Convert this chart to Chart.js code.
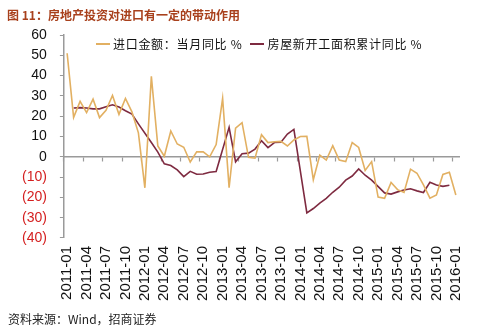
<!DOCTYPE html>
<html>
<head>
<meta charset="utf-8">
<script src="https://cdn.jsdelivr.net/npm/chart.js@4.4.1/dist/chart.umd.min.js"></script>
<style>
  html, body { margin: 0; padding: 0; background: #fff; }
  #wrap { position: relative; width: 482px; height: 333px; overflow: hidden; }
  #title { position: absolute; left: 7px; top: 6px; font: bold 12px "Noto Sans CJK SC", sans-serif; color: #A8401C; white-space: nowrap; }
  #source { position: absolute; left: 8px; top: 310px; font: 12px "Noto Sans CJK SC", sans-serif; color: #222; white-space: nowrap; }
  #legend { position: absolute; left: 96px; top: 35px; display: flex; font: 12px "Noto Sans CJK SC", sans-serif; letter-spacing: 0.7px; color: #111; white-space: nowrap; }
  #legend .item { display: flex; align-items: center; margin-right: 8px; }
  #legend .swatch { width: 14px; height: 2px; margin-right: 3px; }
  canvas { position: absolute; left: 0; top: 0; }
</style>
</head>
<body>
<div id="wrap">
  <canvas id="chart" width="482" height="333"></canvas>
  <div id="title">图 11：房地产投资对进口有一定的带动作用</div>
  <div id="legend"></div>
  <div id="source">资料来源：Wind，招商证券</div>
</div>
<script>
'use strict';

/* months 2011-01 .. 2016-01 */
var years = ['2011', '2012', '2013', '2014', '2015'];
var monthNames = ['01', '02', '03', '04', '05', '06', '07', '08', '09', '10', '11', '12'];
var months = [];
years.forEach(function (y) { monthNames.forEach(function (m) { months.push(y + '-' + m); }); });
months.push('2016-01');

var seriesNames = ['进口金额：当月同比 %', '房屋新开工面积累计同比 %'];
var seriesColors = ['#E2B062', '#7E2A40'];

// 进口金额：当月同比 %
var importYoY = [
    51.0, 19.4, 27.3, 21.8, 28.4, 19.3, 22.9, 30.2, 20.9, 28.7, 22.1, 11.8,
    -15.3, 39.6, 5.3, 0.3, 12.7, 6.3, 4.7, -2.6, 2.4, 2.4, 0.0, 6.0,
    28.8, -15.2, 14.1, 16.8, -0.3, -0.7, 10.9, 7.0, 7.4, 7.6, 5.3, 8.3,
    10.0, 10.1, -11.3, 0.8, -1.6, 5.5, -1.6, -2.4, 7.0, 4.6, -6.7, -2.4,
    -19.9, -20.5, -12.7, -16.2, -17.6, -6.1, -8.1, -13.8, -20.4, -18.8, -8.7, -7.6,
    -18.8
];

// 房屋新开工面积累计同比 % (no January figure)
var startsYoY = [
    null, 24.0, 24.2, 24.0, 23.6, 23.6, 24.6, 25.6, 24.5, 22.7, 21.0, 16.2,
    null, 7.0, 2.3, -3.5, -4.3, -6.5, -9.8, -7.2, -8.6, -8.5, -7.6, -7.3,
    null, 14.5, -2.5, 1.5, 1.8, 3.8, 7.9, 4.5, 7.0, 7.2, 11.2, 13.5,
    null, -27.7, -25.5, -22.8, -20.5, -17.5, -15.0, -11.5, -9.5, -6.0, -9.1, -11.5,
    null, -17.8, -18.4, -17.3, -16.4, -15.8, -16.8, -17.6, -12.6, -13.9, -14.6, -14.0,
    null
];

var yTicks = { min: -40, max: 60, step: 10 };

var AXIS = '#9A9A9A';
var NUM_FONT = '"Liberation Sans", Arial, sans-serif';

var chart = new Chart(document.getElementById('chart').getContext('2d'), {
    type: 'line',
    data: {
        labels: months,
        datasets: [{
            label: seriesNames[0],
            data: importYoY,
            borderColor: seriesColors[0],
            borderWidth: 1.6,
            pointRadius: 0,
            tension: 0,
        }, {
            label: seriesNames[1],
            data: startsYoY,
            borderColor: seriesColors[1],
            borderWidth: 1.6,
            pointRadius: 0,
            tension: 0,
            spanGaps: true,
        }],
    },
    options: {
        responsive: false,
        animation: false,
        layout: { padding: { top: 35, left: 9, right: 18, bottom: 24 } },
        plugins: {
            legend: { display: false },
            tooltip: { enabled: false },
        },
        scales: {
            x: {
                type: 'category',
                position: 'bottom',
                offset: true,
                border: { display: false },
                grid: { display: false, drawTicks: false },
                ticks: {
                    autoSkip: false,
                    minRotation: 90,
                    maxRotation: 90,
                    padding: 8,
                    color: '#111',
                    font: { family: NUM_FONT, size: 15 },
                    callback: function (v, i) { return i % 3 === 0 ? this.getLabelForValue(v) : ''; },
                },
            },
            x0: {
                type: 'category',
                axis: 'x',
                position: { y: 0 },
                offset: true,
                border: { display: true, color: AXIS, width: 1.5 },
                grid: {
                    display: true,
                    drawOnChartArea: false,
                    drawTicks: true,
                    offset: true,
                    tickLength: 4,
                    tickWidth: 1.2,
                    tickColor: function (c) { return c.index % 3 === 0 ? AXIS : 'rgba(0,0,0,0)'; },
                },
                ticks: { display: false, autoSkip: false },
            },
            y: {
                min: yTicks.min,
                max: yTicks.max,
                border: { display: true, color: AXIS, width: 1.5 },
                grid: { drawOnChartArea: false, tickLength: 4, tickColor: AXIS },
                ticks: {
                    stepSize: yTicks.step,
                    padding: 13,
                    font: { family: NUM_FONT, size: 14 },
                    color: function (c) { return c.tick.value < 0 ? '#D42020' : '#111'; },
                    callback: function (v) { return v < 0 ? '(' + Math.abs(v) + ')' : String(v); },
                },
            },
        },
    },
});

/* legend sits inside the plot area, so build it as plain HTML */
var legendEl = document.getElementById('legend');
chart.data.datasets.forEach(function (ds) {
    var item = document.createElement('span');
    item.className = 'item';
    var sw = document.createElement('span');
    sw.className = 'swatch';
    sw.style.background = ds.borderColor;
    item.appendChild(sw);
    item.appendChild(document.createTextNode(ds.label));
    legendEl.appendChild(item);
});
</script>
</body>
</html>
